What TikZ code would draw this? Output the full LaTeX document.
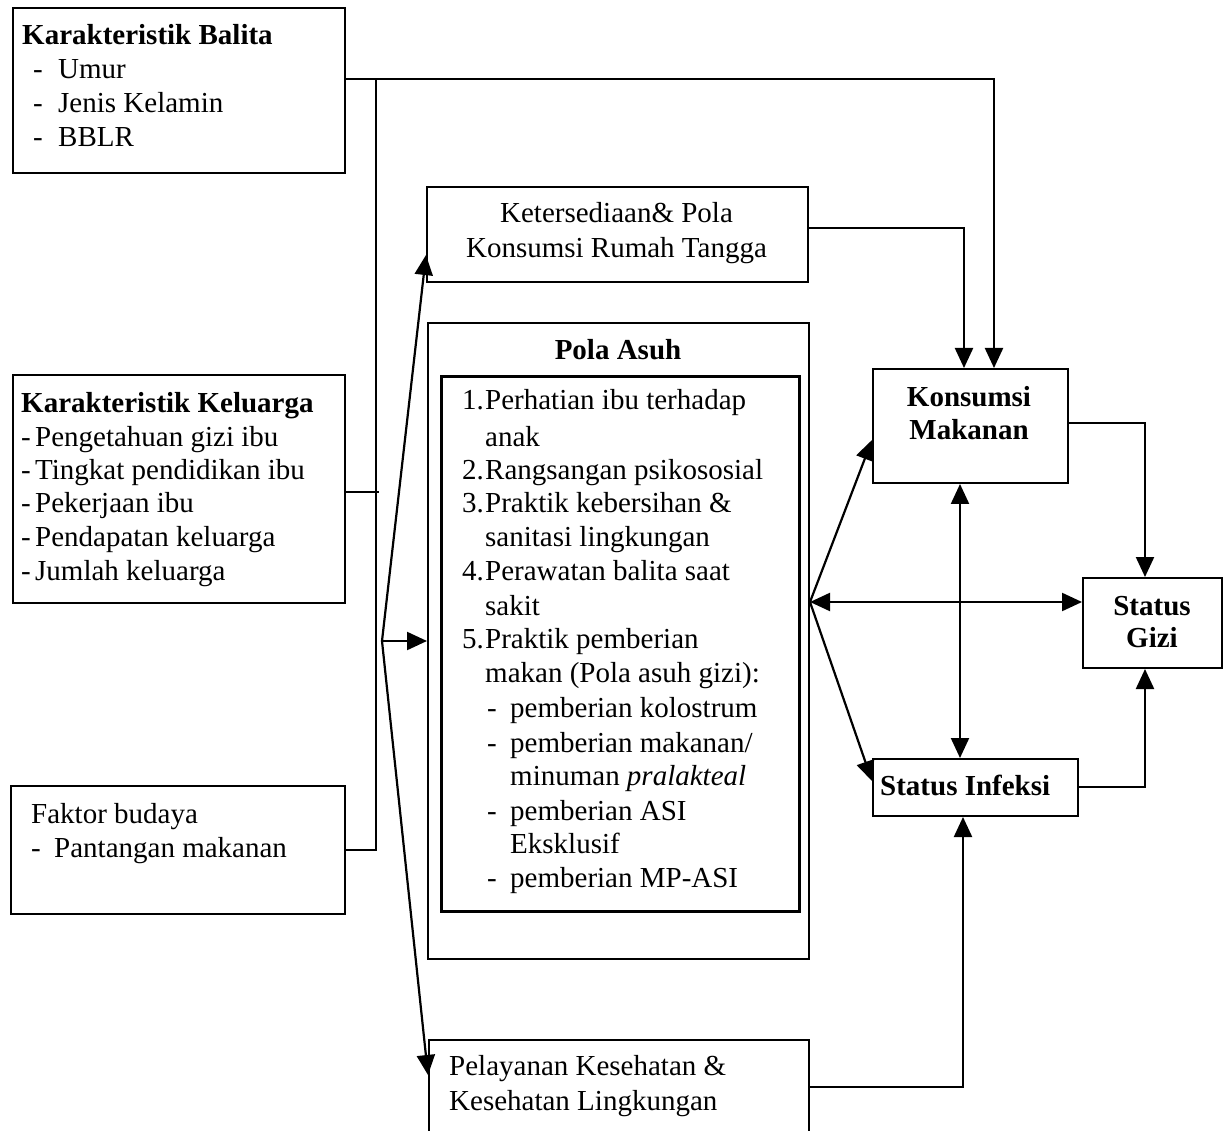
\documentclass[tikz,border=0pt]{standalone}
\usepackage{fontspec}
\setmainfont{Liberation Serif}
\usetikzlibrary{arrows.meta,calc}
\begin{document}
\begin{tikzpicture}[x=1pt,y=-1pt,
  box/.style={draw, line width=2pt, inner sep=0pt, anchor=north west},
  txt/.style={inner sep=0pt, anchor=base west, font=\fontsize{29}{34}\selectfont},
  ctxt/.style={txt, anchor=base},
  btxt/.style={txt, font=\fontsize{29}{34}\selectfont\bfseries},
  bctxt/.style={btxt, anchor=base},
  ln/.style={line width=2.2pt},
  tip/.tip={Triangle[length=20pt,width=18pt]},
  arr/.style={ln, -tip},
  darr/.style={ln, tip-tip}
]
\useasboundingbox (0,0) rectangle (1227,1131);
\clip (0,0) rectangle (1227,1131);

% boxes
\node[box, minimum width=332pt, minimum height=165pt] (balita) at (12,7) {};
\node[box, minimum width=332pt, minimum height=228pt] (keluarga) at (12,374) {};
\node[box, minimum width=334pt, minimum height=128pt] (budaya) at (10,785) {};
\node[box, minimum width=381pt, minimum height=95pt] (sedia) at (426,186) {};
\node[box, minimum width=381pt, minimum height=636pt] (pola) at (427,322) {};
\node[box, line width=2.6pt, minimum width=358pt, minimum height=535pt] (polain) at (440,375) {};
\node[box, minimum width=380pt, minimum height=130pt] (layan) at (428,1039) {};
\node[box, minimum width=195pt, minimum height=114pt] (konsumsi) at (872,368) {};
\node[box, minimum width=139pt, minimum height=90pt] (gizi) at (1082,577) {};
\node[box, minimum width=205pt, minimum height=57pt] (infeksi) at (872,758) {};

% Karakteristik Balita
\node[btxt] (b0) at (22,45) {Karakteristik Balita};
\node[txt] (b1) at (33,79) {\makebox[25pt][l]{-}Umur};
\node[txt] (b2) at (33,113) {\makebox[25pt][l]{-}Jenis Kelamin};
\node[txt] (b3) at (33,147) {\makebox[25pt][l]{-}BBLR};

% Karakteristik Keluarga
\node[btxt] (k0) at (21,413) {Karakteristik Keluarga};
\node[txt] (k1) at (21,447) {\makebox[14pt][l]{-}Pengetahuan gizi ibu};
\node[txt] (k2) at (21,480) {\makebox[14pt][l]{-}Tingkat pendidikan ibu};
\node[txt] (k3) at (21,513) {\makebox[14pt][l]{-}Pekerjaan ibu};
\node[txt] (k4) at (21,547) {\makebox[14pt][l]{-}Pendapatan keluarga};
\node[txt] (k5) at (21,580) {\makebox[14pt][l]{-}Jumlah keluarga};

% Faktor budaya
\node[txt] (f0) at (31,823) {Faktor budaya};
\node[txt] (f1) at (31,857) {\makebox[23pt][l]{-}Pantangan makanan};

% Ketersediaan
\node[ctxt] (s0) at (616.5,223) {Ketersediaan\& Pola};
\node[ctxt] (s1) at (616.5,258) {Konsumsi Rumah Tangga};

% Pola Asuh
\node[bctxt] (p0) at (618,360) {Pola Asuh};
\node[txt] (p1) at (462,410) {\makebox[23pt][l]{1.}Perhatian ibu terhadap};
\node[txt] (p2) at (485,447) {anak};
\node[txt] (p3) at (462,480) {\makebox[23pt][l]{2.}Rangsangan psikososial};
\node[txt] (p4) at (462,513) {\makebox[23pt][l]{3.}Praktik kebersihan \&};
\node[txt] (p5) at (485,547) {sanitasi lingkungan};
\node[txt] (p6) at (462,580) {\makebox[23pt][l]{4.}Perawatan balita saat};
\node[txt] (p7) at (485,615) {sakit};
\node[txt] (p8) at (462,648) {\makebox[23pt][l]{5.}Praktik pemberian};
\node[txt] (p9) at (485,682) {makan (Pola asuh gizi):};
\node[txt] (p10) at (487,717) {\makebox[23pt][l]{-}pemberian kolostrum};
\node[txt] (p11) at (487,752) {\makebox[23pt][l]{-}pemberian makanan/};
\node[txt] (p12) at (510,785) {minuman \textit{pralakteal}};
\node[txt] (p13) at (487,820) {\makebox[23pt][l]{-}pemberian ASI};
\node[txt] (p14) at (510,853) {Eksklusif};
\node[txt] (p15) at (487,887) {\makebox[23pt][l]{-}pemberian MP-ASI};

% right boxes text
\node[bctxt] (m0) at (969,407) {Konsumsi};
\node[bctxt] (m1) at (969,440) {Makanan};
\node[bctxt] (g0) at (1152,615) {Status};
\node[bctxt] (g1) at (1152,647) {Gizi};
\node[btxt] (i0) at (880,795) {Status Infeksi};

% Pelayanan
\node[txt] (l0) at (449,1075) {Pelayanan Kesehatan \&};
\node[txt] (l1) at (449,1110) {Kesehatan Lingkungan};

% junction coordinates
\coordinate (busTop) at (376,79);
\coordinate (busBot) at (376,850);
\coordinate (kelEnd) at (379,492);
\coordinate (topR) at (994,79);
\coordinate (sediaR) at (964,228);
\coordinate (fanL) at (382,641);
\coordinate (sediaIn) at (0,255);
\coordinate (layanIn) at (0,1075);
\coordinate (fanR) at (808,602);
\coordinate (konIn) at (0,440);
\coordinate (infIn) at (0,781);
\coordinate (vX) at (960,0);
\coordinate (giziBusT) at (1145,423);
\coordinate (giziBusB) at (1145,787);
\coordinate (layanR) at (963,1087);

% connectors
\draw[arr] (balita.east |- busTop) -- (topR) -- (konsumsi.north -| topR);
\draw[ln] (busTop) -- (busBot) -- (budaya.east |- busBot);
\draw[ln] (keluarga.east |- kelEnd) -- (kelEnd);
\draw[arr] (sedia.east |- sediaR) -- (sediaR) -- (konsumsi.north -| sediaR);

\draw[arr] (fanL) -- (sedia.west |- sediaIn);
\draw[arr] (fanL) -- (pola.west |- fanL);
\draw[arr] (fanL) -- (layan.west |- layanIn);

\draw[darr] (pola.east |- fanR) -- (gizi.west |- fanR);
\draw[arr] (pola.east |- fanR) -- (konsumsi.west |- konIn);
\draw[arr] (pola.east |- fanR) -- (infeksi.west |- infIn);
\draw[darr] (konsumsi.south -| vX) -- (infeksi.north -| vX);

\draw[arr] (konsumsi.east |- giziBusT) -- (giziBusT) -- (gizi.north -| giziBusT);
\draw[arr] (infeksi.east |- giziBusB) -- (giziBusB) -- (gizi.south -| giziBusB);
\draw[arr] (layan.east |- layanR) -- (layanR) -- (infeksi.south -| layanR);
\end{tikzpicture}
\end{document}
